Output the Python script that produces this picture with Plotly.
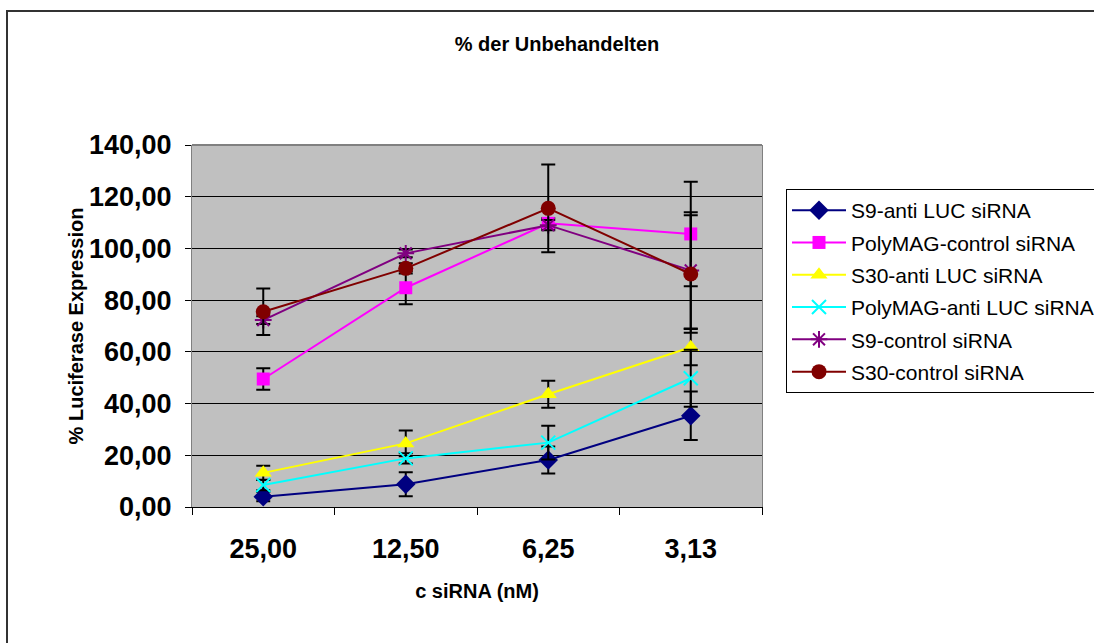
import plotly.graph_objects as go

categories = ["25,00", "12,50", "6,25", "3,13"]

s9_anti = [4.0, 8.8, 18.2, 35.3]
s9_anti_err = [1.8, 4.6, 5.2, 9.4]

polymag_control = [49.5, 84.8, 109.7, 105.6]
polymag_control_err = [4.2, 6.4, 2.0, 20.2]

s30_anti = [13.2, 24.6, 43.6, 61.8]
s30_anti_err = [2.8, 5.0, 5.2, 7.0]

polymag_anti = [8.5, 18.8, 24.9, 49.8]
polymag_anti_err = [2.0, 2.0, 6.5, 11.0]

s9_control = [72.3, 98.1, 109.0, 91.5]
s9_control_err = [1.5, 1.5, 2.0, 22.5]

s30_control = [75.5, 92.3, 115.5, 90.1]
s30_control_err = [9.0, 2.0, 17.0, 22.7]

series = [
    ("S9-anti LUC siRNA", s9_anti, s9_anti_err, "#000080", "diamond", 15),
    ("PolyMAG-control siRNA", polymag_control, polymag_control_err, "#FF00FF", "square", 13),
    ("S30-anti LUC siRNA", s30_anti, s30_anti_err, "#FFFF00", "triangle-up", 15),
    ("PolyMAG-anti LUC siRNA", polymag_anti, polymag_anti_err, "#00FFFF", "x-thin-open", 14),
    ("S9-control siRNA", s9_control, s9_control_err, "#800080", "asterisk-open", 14),
    ("S30-control siRNA", s30_control, s30_control_err, "#800000", "circle", 15),
]

FONT = "Liberation Sans, Arial, sans-serif"

fig = go.Figure()
for name, vals, err, color, sym, size in series:
    open_sym = sym.endswith("open")
    fig.add_trace(go.Scatter(
        x=categories, y=vals, name=name, legendgroup=name, mode="lines+markers",
        line=dict(color=color, width=2),
        marker=dict(symbol=sym, size=size, color=color,
                    line=dict(color=color, width=2 if open_sym else 0)),
        error_y=dict(type="data", array=err, visible=True,
                     color="black", thickness=2, width=7),
    ))

L, R, T, B = 192, 762, 145, 507
W, H = 1094, 643

def px_x(p):
    return (p - L) / (R - L)

def px_y(p):
    return 1 - (p - T) / (B - T)

fig.update_layout(
    width=W, height=H, autosize=False,
    margin=dict(l=L, r=W - R, t=T, b=H - B, autoexpand=False),
    paper_bgcolor="white", plot_bgcolor="#C0C0C0",
    separators=",.",
    font=dict(family=FONT, color="black"),
    title=dict(text="% der Unbehandelten", x=557 / W, xref="container",
               xanchor="center", y=1 - 44 / H, yref="container", yanchor="middle",
               font=dict(family=FONT, size=20, weight="bold", color="black")),
    showlegend=True,
    legend=dict(x=px_x(786), y=px_y(189), xanchor="left", yanchor="top",
                bgcolor="white", bordercolor="black", borderwidth=1,
                font=dict(family=FONT, size=21, color="black"),
                itemwidth=54, tracegroupgap=2, traceorder="grouped"),
    xaxis=dict(
        type="category", categoryorder="array", categoryarray=categories,
        range=[-0.5, 3.5], showgrid=False, zeroline=False,
        showline=True, linecolor="black", linewidth=1,
        ticks="outside", ticklen=7, tickcolor="black", tickson="boundaries",
        tickfont=dict(family=FONT, size=27, weight="bold", color="black"),
        ticklabelstandoff=18,
        title=dict(text="c siRNA (nM)", standoff=20,
                   font=dict(family=FONT, size=20, weight="bold", color="black")),
    ),
    yaxis=dict(
        range=[0, 140], dtick=20, tickformat=".2f",
        showgrid=True, gridcolor="#000000", gridwidth=1, zeroline=False,
        showline=True, linecolor="#808080", linewidth=1, mirror=True,
        ticks="outside", ticklen=6, tickcolor="black",
        tickfont=dict(family=FONT, size=27, weight="bold", color="black"),
        ticklabelstandoff=8,
        title=dict(text="% Luciferase Expression", standoff=0,
                   font=dict(family=FONT, size=20, weight="bold", color="black")),
    ),
    shapes=[
        dict(type="line", xref="paper", yref="paper", x0=0, x1=1, y0=1, y1=1,
             line=dict(color="#808080", width=2)),
        dict(type="rect", xref="paper", yref="paper",
             x0=px_x(7), x1=px_x(1110), y0=px_y(11), y1=px_y(660),
             line=dict(color="#333333", width=2), fillcolor="rgba(0,0,0,0)"),
    ],
)

fig.write_html("out.html", config={"displayModeBar": False},
               post_script="document.body.style.margin='0';document.body.style.overflow='hidden';")
